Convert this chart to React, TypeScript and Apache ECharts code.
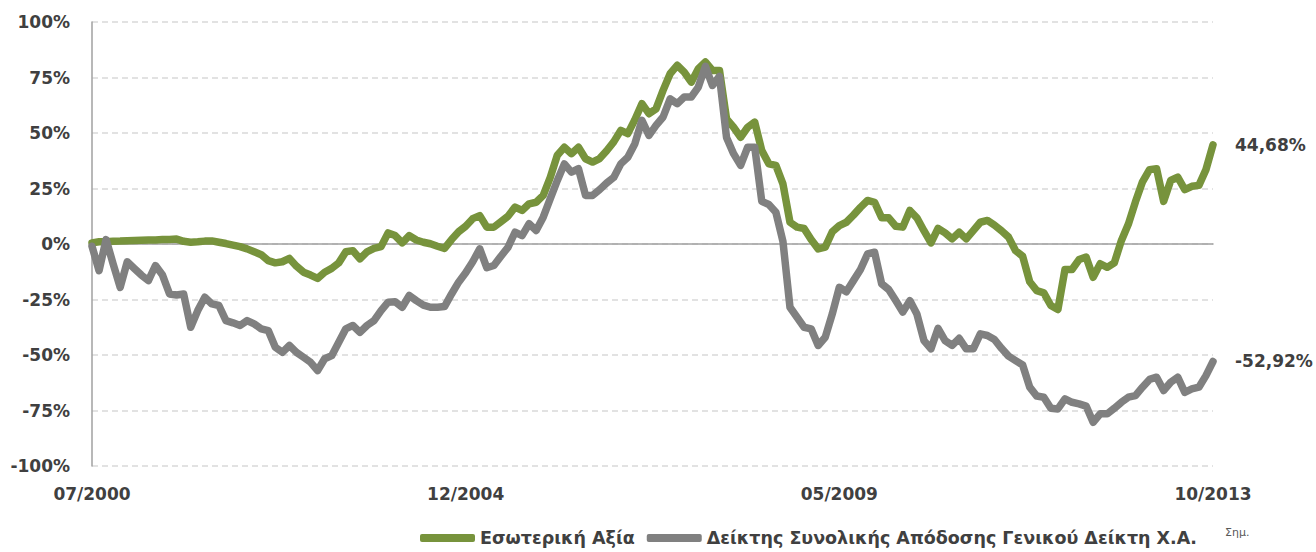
import React, { useEffect, useRef } from "react";
import * as echarts from "echarts";

// Monthly categories 07/2000 .. 10/2013 (160 months)
const categories: string[] = [];
for (let y = 2000, m = 7; categories.length < 160; ) {
  categories.push(String(m).padStart(2, "0") + "/" + y);
  m++;
  if (m > 12) { m = 1; y++; }
}
const xTickLabels = ["07/2000", "12/2004", "05/2009", "10/2013"];
const yTicks = [-100, -75, -50, -25, 0, 25, 50, 75, 100];

const seriesNames = ["Εσωτερική Αξία", "Δείκτης Συνολικής Απόδοσης Γενικού Δείκτη Χ.Α."];
const endLabels = ["44,68%", "-52,92%"];

const intrinsicValue = [
  0.5, 1, 1, 1.2, 1.3, 1.5, 1.6, 1.7, 1.8, 1.8,
  2, 2, 2.2, 1.2, 0.8, 1, 1.3, 1.4, 0.8, 0.2,
  -0.5, -1.2, -2.2, -3.5, -4.8, -7.5, -8.5, -8, -6.5, -10,
  -12.7, -14, -15.5, -12.7, -11, -8.5, -3.5, -3, -6.7, -3.5,
  -2, -1.2, 5, 3.8, 0.5, 3.8, 1.8, 0.8, 0.1, -1,
  -2, 2, 5.5, 8, 11.4, 12.8, 7.6, 7.6, 10, 12.5,
  16.6, 15.1, 18.1, 18.8, 21.9, 30, 40, 43.6, 40.7, 43.6,
  38.4, 36.9, 38.5, 42, 46, 51.2, 49.7, 56, 63.2, 58.7,
  60.9, 69.2, 76.7, 80.5, 77.4, 72.9, 79, 82, 78.2, 78.2,
  56.4, 52.6, 48.1, 52.6, 54.9, 42.1, 36.1, 35.4, 27.1, 9.8,
  7.6, 7, 2, -2.2, -1.4, 5.5, 8.3, 9.8, 13, 16.5,
  19.6, 18.8, 11.8, 11.8, 8, 7.6, 15.1, 11.8, 6, 0.5,
  7, 5, 2.3, 5.3, 2.3, 6, 9.8, 10.6, 8.5, 6,
  3.1, -3, -5.5, -17, -21, -22, -27.7, -29.5, -11.5, -11.5,
  -7, -5.9, -15, -8.9, -10.5, -8.5, 1.5, 9, 19, 28,
  33.5, 33.9, 19.2, 28.6, 30.1, 24.5, 26, 26.4, 33.5, 44.68,
];

const marketIndex = [
  -1, -12, 2, -9, -19.5, -8, -11, -14, -16.5, -9.7,
  -14, -22.5, -23, -22.5, -37.5, -30, -24, -27, -27.7, -34.5,
  -35.5, -36.7, -34.5, -36, -38.2, -39, -46.5, -48.8, -45.7, -48.8,
  -51, -53.3, -57, -51.7, -50.3, -44.3, -38.2, -36.7, -39.8, -36.7,
  -34.5, -30, -26.2, -26, -28.5, -23.2, -25.5, -27.5, -28.5, -28.5,
  -28.2, -22.5, -17.2, -13, -8, -2.2, -10.7, -9.7, -5.5, -1.5,
  5.3, 3.8, 9.1, 6.1, 12.1, 20.4, 28.6, 36.1, 32.4, 33.9,
  21.9, 21.9, 24.5, 27.5, 30, 36.1, 39.1, 45.2, 55.7, 48.9,
  53.4, 57.2, 65.4, 63.2, 66.2, 66.2, 70.7, 80, 71.4, 75.5,
  48, 40.7, 35.4, 43.6, 43.6, 19.2, 17.8, 14.3, 1.2, -28.5,
  -33, -37.5, -38.2, -45.7, -42, -31.5, -19.5, -21.5, -16.5, -11.5,
  -4.5, -3.7, -17.9, -20.5, -25.5, -30.7, -25.5, -31.5, -43.5, -47.2,
  -38, -43.5, -45.7, -42.5, -47.2, -47.2, -40.5, -41.2, -43, -47,
  -50.5, -52.5, -54.5, -64.5, -68.5, -69, -74, -74.3, -69.8, -71.3,
  -72, -73, -80.3, -76.5, -76.5, -74, -71.3, -69, -68.3, -64.5,
  -61, -60, -66, -62.3, -60, -66.8, -65.3, -64.5, -59.3, -52.92,
];

const FONT = "'DejaVu Sans', sans-serif";
const TEXT = "#404040";
const GREEN = "#77933C";
const GRAY = "#808080";

export default function App() {
  const ref = useRef<HTMLDivElement>(null);
  useEffect(() => {
    if (!ref.current) return;
    const chart = echarts.init(ref.current, undefined, { renderer: "svg" });
    const mkSeries = (name: string, data: number[], color: string, label: string) => ({
      name,
      type: "line",
      data,
      xAxisIndex: 0,
      symbol: "none",
      smooth: false,
      lineStyle: { color, width: 7.5, cap: "round", join: "round" },
      itemStyle: { color },
      endLabel: {
        show: true,
        formatter: () => label,
        distance: 22,
        fontFamily: FONT,
        fontWeight: "bold",
        fontSize: 17,
        color: TEXT,
      },
      emphasis: { disabled: true },
    });
    chart.setOption({
      animation: false,
      backgroundColor: "#ffffff",
      grid: { left: 92, right: 103, top: 22, bottom: 86, containLabel: false },
      legend: {
        left: 415,
        top: 524,
        icon: "roundRect",
        itemWidth: 55,
        itemHeight: 8,
        itemGap: 12,
        textStyle: { fontFamily: FONT, fontWeight: "bold", fontSize: 17.5, color: TEXT },
        data: seriesNames,
      },
      xAxis: [
        {
          type: "category",
          data: categories,
          boundaryGap: false,
          axisLine: { show: false, onZero: false },
          axisTick: { show: false },
          splitLine: { show: false },
          axisLabel: {
            interval: (idx: number) => xTickLabels.includes(categories[idx]),
            margin: 19,
            fontFamily: FONT,
            fontWeight: "bold",
            fontSize: 17,
            color: TEXT,
          },
        },
        {
          type: "category",
          data: categories,
          boundaryGap: false,
          position: "bottom",
          axisLine: { show: true, onZero: true, lineStyle: { color: "#a0a0a0", width: 1.5 } },
          axisTick: { show: false },
          axisLabel: { show: false },
          splitLine: { show: false },
        },
      ],
      yAxis: {
        type: "value",
        min: yTicks[0],
        max: yTicks[yTicks.length - 1],
        interval: 25,
        axisLine: { show: true, lineStyle: { color: "#a0a0a0", width: 1.5 } },
        axisTick: { show: false },
        splitLine: { show: true, lineStyle: { color: "#d9d9d9", width: 1.5, type: [6, 4] } },
        axisLabel: {
          formatter: (v: number) => v + "%",
          margin: 22,
          fontFamily: FONT,
          fontWeight: "bold",
          fontSize: 17,
          color: TEXT,
        },
      },
      graphic: [
        {
          type: "text",
          left: 1225,
          top: 527,
          style: { text: "Σημ.", fontFamily: FONT, fontSize: 11, fill: "#595959" },
        },
      ],
      series: [
        mkSeries(seriesNames[0], intrinsicValue, GREEN, endLabels[0]),
        mkSeries(seriesNames[1], marketIndex, GRAY, endLabels[1]),
      ],
    });
    return () => chart.dispose();
  }, []);
  return (
    <div
      ref={ref}
      style={{ position: "fixed", left: 0, top: 0, width: 1316, height: 552, background: "#fff" }}
    />
  );
}
